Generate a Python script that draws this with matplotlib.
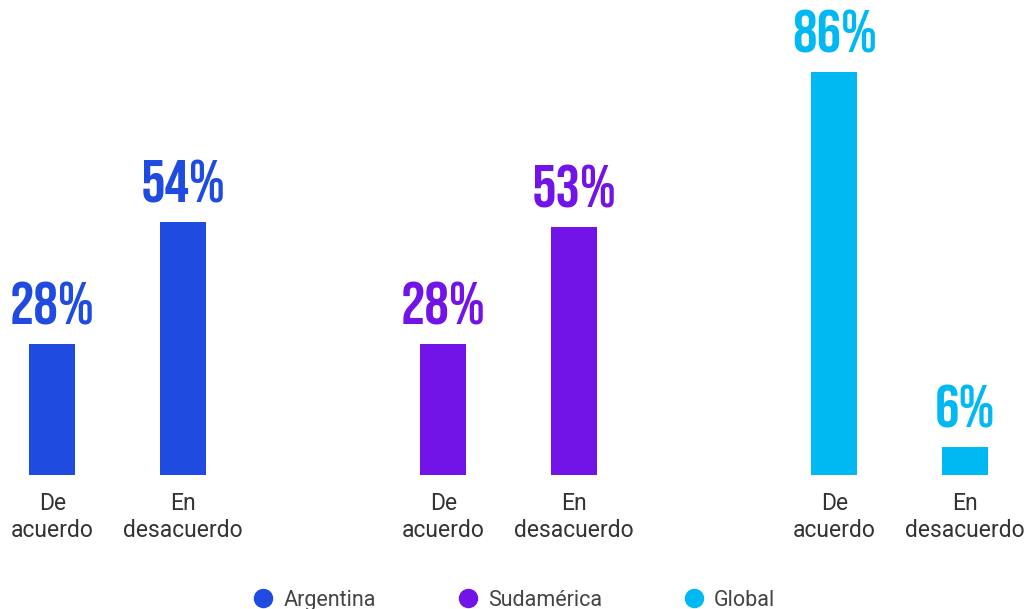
import matplotlib.pyplot as plt
from matplotlib.lines import Line2D

# survey answers by region
regions = ["Argentina", "Sudamérica", "Global"]
answers = ["De\nacuerdo", "En\ndesacuerdo"]
agree = [28, 28, 86]
disagree = [54, 53, 6]
colors = ["#1f4be0", "#7213e8", "#00b9f2"]

fig = plt.figure(figsize=(10.28, 6.09), dpi=100)
ax = fig.add_axes([0, 0.22, 1, 0.78])

label_font = ["Bebas Neue", "Oswald", "Barlow Condensed", "DejaVu Sans"]
cat_font = ["Roboto", "DejaVu Sans"]

for i, region in enumerate(regions):
    xs = [3 * i - 0.5, 3 * i + 0.5]
    vals = [agree[i], disagree[i]]
    ax.bar(xs, vals, width=0.354, color=colors[i])
    for x, v, cat in zip(xs, vals, answers):
        ax.annotate(f"{v}%", (x, v), xytext=(0, 14), textcoords="offset points",
                    ha="center", va="baseline", fontsize=44,
                    color=colors[i], family=label_font)
        ax.annotate(cat, (x, 0), xytext=(0, -12), textcoords="offset points",
                    ha="center", va="top", fontsize=16.5,
                    color="#333333", family=cat_font, linespacing=1.25,
                    annotation_clip=False)

ax.set_xlim(-0.9016, 6.986)
ax.set_ylim(0, 101.4)
ax.axis("off")

handles = [Line2D([], [], marker="o", linestyle="", markersize=13,
                  markerfacecolor=c, markeredgecolor=c) for c in colors]
leg = fig.legend(handles, regions, loc="lower center", bbox_to_anchor=(0.5, -0.035),
                 ncol=3, frameon=False, handlelength=1.0, handletextpad=0.45,
                 columnspacing=3.75, prop={"family": cat_font, "size": 15.5})
for t in leg.get_texts():
    t.set_color("#444444")

fig.savefig("out.png", dpi=100)
